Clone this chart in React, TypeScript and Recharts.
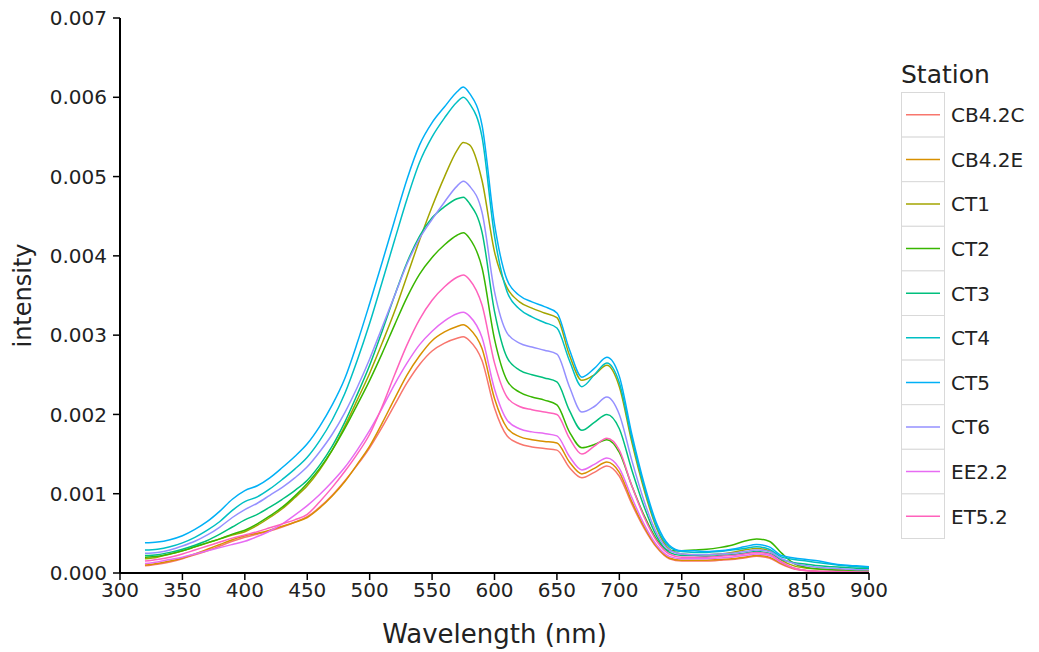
import { LineChart, Line, XAxis, YAxis } from 'recharts';

// wavelength grid (nm)
const wavelengths = [
  320, 330, 340, 350, 360, 370, 380, 390, 400, 410, 420, 430, 440, 450, 460, 470, 480, 490, 500,
  510, 520, 530, 540, 550, 560, 570, 575, 580, 590, 600, 610, 620, 630, 640, 650, 660, 670, 680,
  690, 700, 710, 720, 730, 740, 750, 760, 770, 780, 790, 800, 810, 820, 830, 840, 850, 860, 870,
  880, 890, 900,
];

const cb42c = [
  0.00009, 0.00011, 0.00014, 0.00018, 0.00023, 0.00028, 0.00034, 0.0004, 0.00045, 0.00049, 0.00053,
  0.00058, 0.00064, 0.00071, 0.00083, 0.00098, 0.00116, 0.00136, 0.00158, 0.00184, 0.00212, 0.0024,
  0.00263, 0.0028, 0.0029, 0.00296, 0.00298, 0.00293, 0.00268, 0.00208, 0.00173, 0.00163, 0.00159,
  0.00157, 0.00155, 0.00133, 0.0012, 0.00127, 0.00135, 0.00122, 0.00087, 0.00056, 0.00032, 0.00018,
  0.00015, 0.00015, 0.00015, 0.00016, 0.00017, 0.00019, 0.00021, 0.00019, 0.00011, 0.00005, 0.00003,
  0.00002, 0.00002, 0.00001, 0.00001, 0.00001,
];
const cb42e = [
  0.0001, 0.00012, 0.00015, 0.00019, 0.00024, 0.0003, 0.00036, 0.00042, 0.00047, 0.0005, 0.00054,
  0.00059, 0.00064, 0.0007, 0.00082, 0.00097, 0.00115, 0.00137, 0.0016, 0.00189, 0.0022, 0.0025,
  0.00274, 0.00293, 0.00304, 0.00311, 0.00313, 0.00308, 0.00283, 0.0022, 0.00183, 0.00172, 0.00168,
  0.00166, 0.00164, 0.0014, 0.00125, 0.00132, 0.0014, 0.00127, 0.0009, 0.00058, 0.00033, 0.00019,
  0.00016, 0.00016, 0.00016, 0.00017, 0.00018, 0.0002, 0.00022, 0.0002, 0.00012, 0.00006, 0.00003,
  0.00002, 0.00002, 0.00001, 0.00001, 0.00001,
];
const ct1 = [
  0.00018, 0.0002, 0.00024, 0.00028, 0.00033, 0.00038, 0.00043, 0.00048, 0.00052, 0.0006, 0.0007,
  0.00081, 0.00095, 0.0011, 0.0013, 0.00155, 0.00185, 0.00218, 0.00252, 0.0029, 0.0033, 0.00375,
  0.0042, 0.00462, 0.005, 0.00533, 0.00543, 0.0054, 0.00495, 0.00405, 0.0036, 0.00342, 0.00334,
  0.00328, 0.00322, 0.00275, 0.00243, 0.0025, 0.00262, 0.00235, 0.00165, 0.00104, 0.00056, 0.0003,
  0.00024, 0.00023, 0.00023, 0.00024, 0.00026, 0.00029, 0.00031, 0.00028, 0.00016, 0.00009, 0.00006,
  0.00005, 0.00004, 0.00004, 0.00003, 0.00003,
];
const ct2 = [
  0.0002, 0.00021, 0.00024, 0.00028, 0.00033, 0.00038, 0.00043, 0.00049, 0.00054, 0.00062, 0.00072,
  0.00083, 0.00097, 0.00113, 0.00132, 0.00155, 0.00182, 0.00212, 0.00243, 0.00277, 0.00313, 0.00348,
  0.00377, 0.00398, 0.00414, 0.00426, 0.00429, 0.00422, 0.00385, 0.00295, 0.00243, 0.00228, 0.00222,
  0.00218, 0.00212, 0.00178, 0.00158, 0.00162, 0.00168, 0.00152, 0.0011, 0.00072, 0.00042, 0.00028,
  0.00028, 0.00029, 0.0003, 0.00032, 0.00035, 0.0004, 0.00043, 0.0004, 0.00025, 0.00012, 0.00007,
  0.00005, 0.00004, 0.00003, 0.00003, 0.00002,
];
const ct3 = [
  0.00022, 0.00023, 0.00026, 0.0003, 0.00035, 0.00041, 0.00049, 0.00058, 0.00067, 0.00074, 0.00083,
  0.00093, 0.00104, 0.00117, 0.00136, 0.0016, 0.0019, 0.00225, 0.00262, 0.00305, 0.0035, 0.00392,
  0.00425, 0.00448, 0.00462, 0.00472, 0.00474, 0.00466, 0.0043, 0.0033, 0.00272, 0.00256, 0.0025,
  0.00246, 0.00241, 0.00205, 0.0018, 0.0019, 0.002, 0.00182, 0.0013, 0.00083, 0.00046, 0.00026,
  0.00022, 0.00022, 0.00021, 0.00022, 0.00023, 0.00025, 0.00027, 0.00025, 0.00017, 0.00013, 0.00011,
  0.00009, 0.00008, 0.00007, 0.00006, 0.00006,
];
const ct4 = [
  0.00029, 0.0003, 0.00033, 0.00038, 0.00045, 0.00054, 0.00065, 0.00079, 0.0009, 0.00096, 0.00106,
  0.00118, 0.00131, 0.00146, 0.00167, 0.00193, 0.00226, 0.00268, 0.00315, 0.00367, 0.0042, 0.00472,
  0.00518, 0.0055, 0.00574, 0.00594, 0.006, 0.00592, 0.0055, 0.00425, 0.00355, 0.00333, 0.00323,
  0.00316, 0.00309, 0.00268, 0.00235, 0.0025, 0.00265, 0.0024, 0.0017, 0.00108, 0.00058, 0.00033,
  0.00027, 0.00026, 0.00026, 0.00027, 0.00029, 0.00031, 0.00033, 0.0003, 0.0002, 0.00017, 0.00015,
  0.00013, 0.00011, 0.00009, 0.00008, 0.00007,
];
const ct5 = [
  0.00038, 0.00039, 0.00042, 0.00047, 0.00055, 0.00065, 0.00078, 0.00093, 0.00104, 0.0011, 0.0012,
  0.00133, 0.00147, 0.00163, 0.00185, 0.00212, 0.00245, 0.0029, 0.0034, 0.00392, 0.00445, 0.00497,
  0.0054, 0.00568, 0.00588, 0.00607, 0.00613, 0.00605, 0.00565, 0.0044, 0.0037, 0.0035, 0.00342,
  0.00336, 0.00328, 0.00282, 0.00247, 0.00258, 0.00272, 0.00248, 0.00175, 0.00112, 0.00062, 0.00035,
  0.00028, 0.00028, 0.00027, 0.00028, 0.0003, 0.00033, 0.00036, 0.00033, 0.00022, 0.00019, 0.00017,
  0.00015, 0.00012, 0.0001, 0.00009, 0.00008,
];
const ct6 = [
  0.00025, 0.00026, 0.00029, 0.00034, 0.0004, 0.00048, 0.00058, 0.0007, 0.0008, 0.00088, 0.00098,
  0.00108, 0.0012, 0.00134, 0.00153, 0.00175, 0.00202, 0.00234, 0.0027, 0.0031, 0.0035, 0.0039,
  0.00422, 0.00446, 0.00468, 0.00488, 0.00494, 0.00488, 0.00455, 0.00355, 0.00303, 0.0029, 0.00285,
  0.00281, 0.00276, 0.00235, 0.00203, 0.0021, 0.00222, 0.002, 0.00142, 0.0009, 0.0005, 0.00029,
  0.00024, 0.00023, 0.00023, 0.00024, 0.00025, 0.00027, 0.00029, 0.00027, 0.00018, 0.00012, 0.00009,
  0.00007, 0.00006, 0.00005, 0.00004, 0.00004,
];
const ee22 = [
  0.00012, 0.00014, 0.00017, 0.0002, 0.00024, 0.00028, 0.00032, 0.00036, 0.0004, 0.00046, 0.00053,
  0.00062, 0.00073, 0.00085, 0.00099, 0.00115, 0.00133, 0.00155, 0.0018, 0.00208, 0.00238, 0.00265,
  0.00288, 0.00305, 0.00318, 0.00327, 0.00329, 0.00324, 0.00297, 0.00232, 0.00193, 0.00182, 0.00178,
  0.00176, 0.00173, 0.00147, 0.0013, 0.00137, 0.00145, 0.00132, 0.00095, 0.00061, 0.00035, 0.00021,
  0.00018, 0.00018, 0.00018, 0.00019, 0.0002, 0.00022, 0.00024, 0.00022, 0.00013, 0.00006, 0.00003,
  0.00002, 0.00002, 0.00001, 0.00001, 0.00001,
];
const et52 = [
  0.00015, 0.00017, 0.0002, 0.00024, 0.00029, 0.00034, 0.00039, 0.00044, 0.00048, 0.00052, 0.00057,
  0.00062, 0.00067, 0.00074, 0.0009, 0.00108, 0.00128, 0.0015, 0.00175, 0.0021, 0.0025, 0.00288,
  0.0032, 0.00344, 0.00361, 0.00373, 0.00376, 0.0037, 0.00338, 0.00265, 0.00222, 0.0021, 0.00206,
  0.00203, 0.002, 0.0017, 0.0015, 0.0016, 0.0017, 0.00155, 0.0011, 0.0007, 0.0004, 0.00024,
  0.0002, 0.0002, 0.0002, 0.00021, 0.00022, 0.00024, 0.00026, 0.00024, 0.00014, 0.00006, 0.00003,
  0.00002, 0.00002, 0.00002, 0.00001, 0.00001,
];

const stations = ['CB4.2C', 'CB4.2E', 'CT1', 'CT2', 'CT3', 'CT4', 'CT5', 'CT6', 'EE2.2', 'ET5.2'];
const seriesValues = [cb42c, cb42e, ct1, ct2, ct3, ct4, ct5, ct6, ee22, et52];
const COLORS = [
  '#F8766D', '#D89000', '#A3A500', '#39B600', '#00BF7D',
  '#00BFC4', '#00B0F6', '#9590FF', '#E76BF3', '#FF62BC',
];

const xTicks = [300, 350, 400, 450, 500, 550, 600, 650, 700, 750, 800, 850, 900];
const yTicks = [0, 0.001, 0.002, 0.003, 0.004, 0.005, 0.006, 0.007];

const data = wavelengths.map((wl, i) => {
  const row: Record<string, number> = { wl };
  stations.forEach((s, k) => {
    row[s] = seriesValues[k][i];
  });
  return row;
});

const FONT = '"DejaVu Sans", Arial, sans-serif';
const tickStyle = { fill: '#222', fontSize: 20, fontFamily: FONT };

const StationLegend = () => {
  const rowH = 44.6;
  return (
    <div style={{ position: 'absolute', left: 898, top: 59 }}>
      <div style={{ fontFamily: FONT, fontSize: 25, color: '#222', lineHeight: '32px', marginLeft: 3 }}>
        Station
      </div>
      <svg width={141} height={452} style={{ display: 'block' }}>
        {stations.map((s, i) => (
          <g key={s} transform={`translate(0, ${i * rowH + 1})`}>
            <rect x={3.5} y={0.5} width={43} height={rowH} fill='#fff' stroke='#d9d9d9' />
            <line x1={8} x2={42} y1={rowH / 2 + 0.5} y2={rowH / 2 + 0.5} stroke={COLORS[i]} strokeWidth={1.5} />
            <text x={53} y={rowH / 2 + 8} fontFamily={FONT} fontSize={20} fill='#222'>
              {s}
            </text>
          </g>
        ))}
      </svg>
    </div>
  );
};

const App = () => (
  <div style={{ position: 'absolute', left: 0, top: 0, width: 1039, height: 652, background: '#fff' }}>
    <LineChart width={1039} height={652} data={data} margin={{ top: 18, right: 170, bottom: 0, left: 0 }}>
      <XAxis
        dataKey='wl'
        type='number'
        domain={[300, 900]}
        ticks={xTicks}
        interval={0}
        height={79}
        tickSize={7}
        tickMargin={3}
        tick={tickStyle}
        axisLine={{ stroke: '#000', strokeWidth: 2 }}
        tickLine={{ stroke: '#000', strokeWidth: 1.5 }}
        label={{ value: 'Wavelength (nm)', position: 'insideBottom', offset: 9, style: { fontFamily: FONT, fontSize: 26, fill: '#222' } }}
      />
      <YAxis
        type='number'
        domain={[0, 0.007]}
        ticks={yTicks}
        interval={0}
        width={120}
        tickSize={7}
        tickMargin={6}
        tick={tickStyle}
        tickFormatter={(v: number) => v.toFixed(3)}
        axisLine={{ stroke: '#000', strokeWidth: 2 }}
        tickLine={{ stroke: '#000', strokeWidth: 1.5 }}
        label={{ value: 'intensity', angle: -90, position: 'insideLeft', offset: 22, style: { textAnchor: 'middle', fontFamily: FONT, fontSize: 24, fill: '#222' } }}
      />
      {stations.map((s, i) => (
        <Line
          key={s}
          type='monotone'
          dataKey={s}
          stroke={COLORS[i]}
          strokeWidth={1.5}
          dot={false}
          isAnimationActive={false}
        />
      ))}
    </LineChart>
    <StationLegend />
  </div>
);

export default App;
